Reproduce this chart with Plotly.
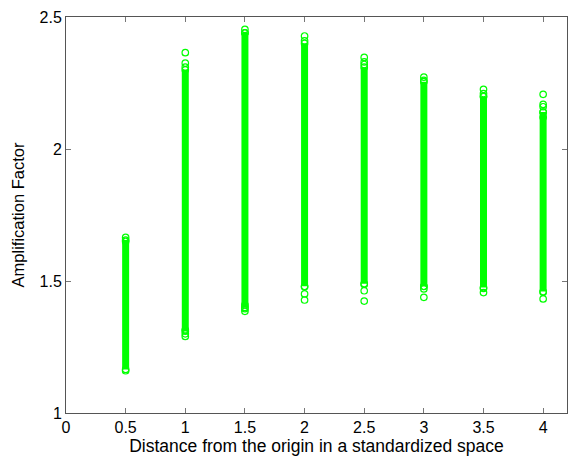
import plotly.graph_objects as go

# Column positions (distance from origin)
x_positions = [0.5, 1.0, 1.5, 2.0, 2.5, 3.0, 3.5, 4.0]

# Dense ranges of amplification factor at each distance (solid part of each column)
band_low = [1.165, 1.31, 1.40, 1.48, 1.49, 1.48, 1.475, 1.46]
band_high = [1.655, 2.30, 2.44, 2.40, 2.31, 2.255, 2.198, 2.14]

# Sparse individual points (outside the dense ranges)
pts_05 = [1.16, 1.665, 1.65]
pts_10 = [2.365, 2.325, 2.31, 1.29, 1.30, 1.315]
pts_15 = [2.453, 2.44, 1.385, 1.395, 1.41]
pts_20 = [2.428, 2.41, 1.428, 1.451, 1.478]
pts_25 = [2.347, 2.33, 2.32, 1.424, 1.463, 1.487]
pts_30 = [2.272, 2.26, 1.438, 1.47, 1.48]
pts_35 = [2.226, 2.21, 2.20, 1.456, 1.472]
pts_40 = [2.207, 2.169, 2.16, 2.14, 2.12, 1.432, 1.457]
sparse_points = [pts_05, pts_10, pts_15, pts_20, pts_25, pts_30, pts_35, pts_40]

x_ticks = [0, 0.5, 1, 1.5, 2, 2.5, 3, 3.5, 4]
x_ticklabels = ["0", "0.5", "1", "1.5", "2", "2.5", "3", "3.5", "4"]
y_ticks = [1, 1.5, 2, 2.5]
y_ticklabels = ["1", "1.5", "2", "2.5"]

GREEN = "#00ff00"
fig = go.Figure()

for xp, lo, hi in zip(x_positions, band_low, band_high):
    fig.add_trace(go.Scatter(
        x=[xp, xp], y=[lo, hi], mode="lines",
        line=dict(color=GREEN, width=7), hoverinfo="skip", showlegend=False))

sx, sy = [], []
for xp, lo, hi, pts in zip(x_positions, band_low, band_high, sparse_points):
    for v in pts + [lo, hi]:
        sx.append(xp)
        sy.append(v)
fig.add_trace(go.Scatter(
    x=sx, y=sy, mode="markers",
    marker=dict(symbol="circle-open", size=6.5, color=GREEN, line=dict(width=1.2, color=GREEN)),
    showlegend=False))

FAM = "Liberation Sans, Arial, sans-serif"
tick_font = dict(family=FAM, size=16, color="black")
xtitle_font = dict(family=FAM, size=17.5, color="black")
ytitle_font = dict(family=FAM, size=16.5, color="black")
axis_common = dict(showline=True, linecolor="#555555", linewidth=1, mirror="ticks",
                   ticks="inside", ticklen=5, tickcolor="#777777", showgrid=False,
                   zeroline=False, tickfont=tick_font)

fig.update_layout(
    width=568, height=456,
    margin=dict(l=66, r=1, t=17, b=43),
    paper_bgcolor="white", plot_bgcolor="white",
    font=tick_font,
    xaxis=dict(range=[0, 4.2], tickvals=x_ticks, ticktext=x_ticklabels,
               title=dict(text="Distance from the origin in a standardized space",
                          font=xtitle_font, standoff=2), **axis_common),
    yaxis=dict(range=[1, 2.5], tickvals=y_ticks, ticktext=y_ticklabels,
               title=dict(text="Amplification Factor", font=ytitle_font, standoff=10),
               **axis_common),
)

fig.write_html("out.html")
